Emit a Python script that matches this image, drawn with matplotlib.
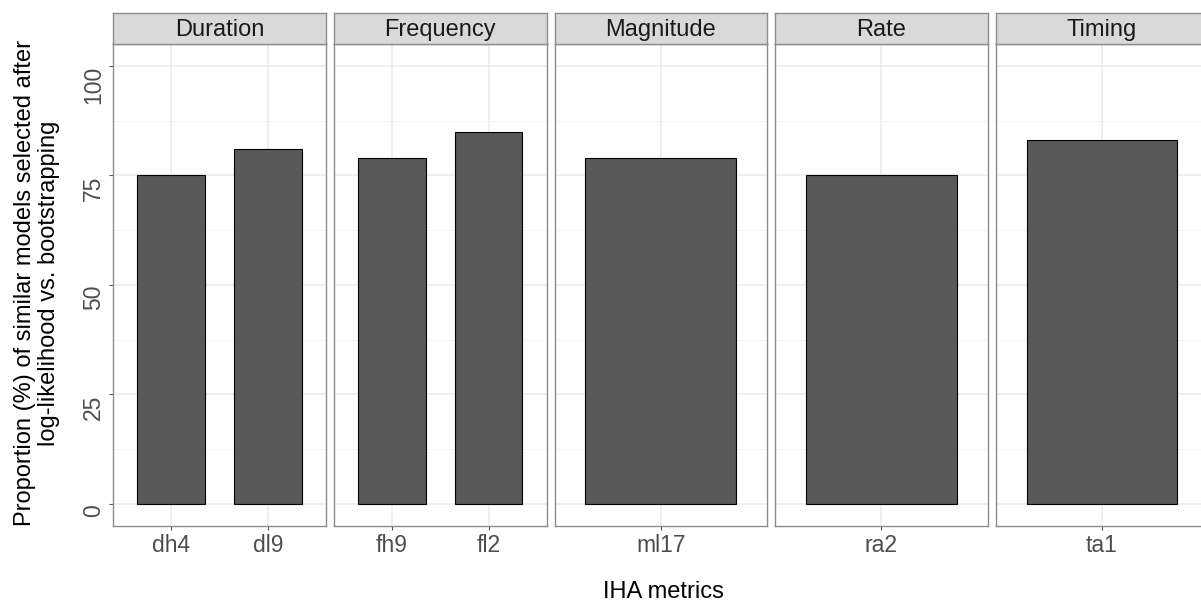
import numpy as np
import matplotlib
matplotlib.use("Agg")
from matplotlib import pyplot as plt

plt.rcParams['font.family'] = ['Liberation Sans', 'DejaVu Sans']

# data
groups = ["Duration", "Frequency", "Magnitude", "Rate", "Timing"]
metrics = ["dh4", "dl9", "fh9", "fl2", "ml17", "ra2", "ta1"]
metric_group = ["Duration", "Duration", "Frequency", "Frequency",
                "Magnitude", "Rate", "Timing"]
proportions = [75, 81, 79, 85, 79, 75, 83]
y_ticks = [0, 25, 50, 75, 100]

W, H = 1201, 603
fig = plt.figure(figsize=(W / 100, H / 100), dpi=100)

# panel geometry in pixels
panel_left = [113.3, 334.0, 554.5, 775.0, 995.7]
panel_w = 212.5
panel_top, panel_bottom = 44.0, 525.7
strip_top = 13.3

border_col = '#8c8c8c'
text_col = '#4d4d4d'


def to_fig(x0, y0, w, h):
    return [x0 / W, 1 - (y0 + h) / H, w / W, h / H]


for i, g in enumerate(groups):
    idx = [k for k, gg in enumerate(metric_group) if gg == g]
    labels = [metrics[k] for k in idx]
    vals = [proportions[k] for k in idx]
    n = len(idx)
    xs = np.arange(1, n + 1)

    ax = fig.add_axes(to_fig(panel_left[i], panel_top, panel_w,
                             panel_bottom - panel_top))
    width = 0.7 if n > 1 else 0.85
    ax.bar(xs, vals, width=width, color='#595959', edgecolor='black',
           linewidth=0.8, zorder=3)
    ax.set_xlim(0.4, n + 0.6)
    ax.set_ylim(-5, 105)
    ax.set_xticks(xs)
    ax.set_xticklabels(labels)
    ax.set_yticks(y_ticks)
    ax.set_yticks([12.5, 37.5, 62.5, 87.5], minor=True)
    ax.grid(True, which='major', color='#ebebeb', linewidth=1.1, zorder=0)
    ax.grid(True, which='minor', axis='y', color='#f2f2f2', linewidth=0.6,
            zorder=0)
    ax.set_axisbelow(True)
    for s in ax.spines.values():
        s.set_color(border_col)
        s.set_linewidth(1.0)
    ax.tick_params(axis='x', length=3, color='#555555', labelsize=16.5,
                   labelcolor=text_col, pad=3)
    ax.tick_params(axis='y', which='minor', length=0)
    if i == 0:
        ax.tick_params(axis='y', length=3, color='#555555', labelsize=16.5,
                       labelcolor=text_col, pad=3)
        for t in ax.get_yticklabels():
            t.set_rotation(90)
            t.set_va('top')
            t.set_ha('right')
    else:
        ax.tick_params(axis='y', length=0, labelleft=False)

    # facet strip
    sx = fig.add_axes(to_fig(panel_left[i], strip_top, panel_w,
                             panel_top - strip_top))
    sx.set_facecolor('#d9d9d9')
    sx.set_xticks([])
    sx.set_yticks([])
    for s in sx.spines.values():
        s.set_color(border_col)
        s.set_linewidth(1.0)
    sx.text(0.5, 0.46, g, ha='center', va='center', fontsize=17,
            color='#1a1a1a', transform=sx.transAxes)

fig.text(663 / W, 1 - 592 / H,
         'IHA metrics', ha='center', va='center', fontsize=17,
         color='black')
fig.text(37 / W, 1 - 283 / H,
         'Proportion (%) of similar models selected after\n'
         'log-likelihood vs. bootstrapping',
         ha='center', va='center', rotation=90, fontsize=17,
         linespacing=1.1, color='black')

fig.savefig('out.png', dpi=100)
